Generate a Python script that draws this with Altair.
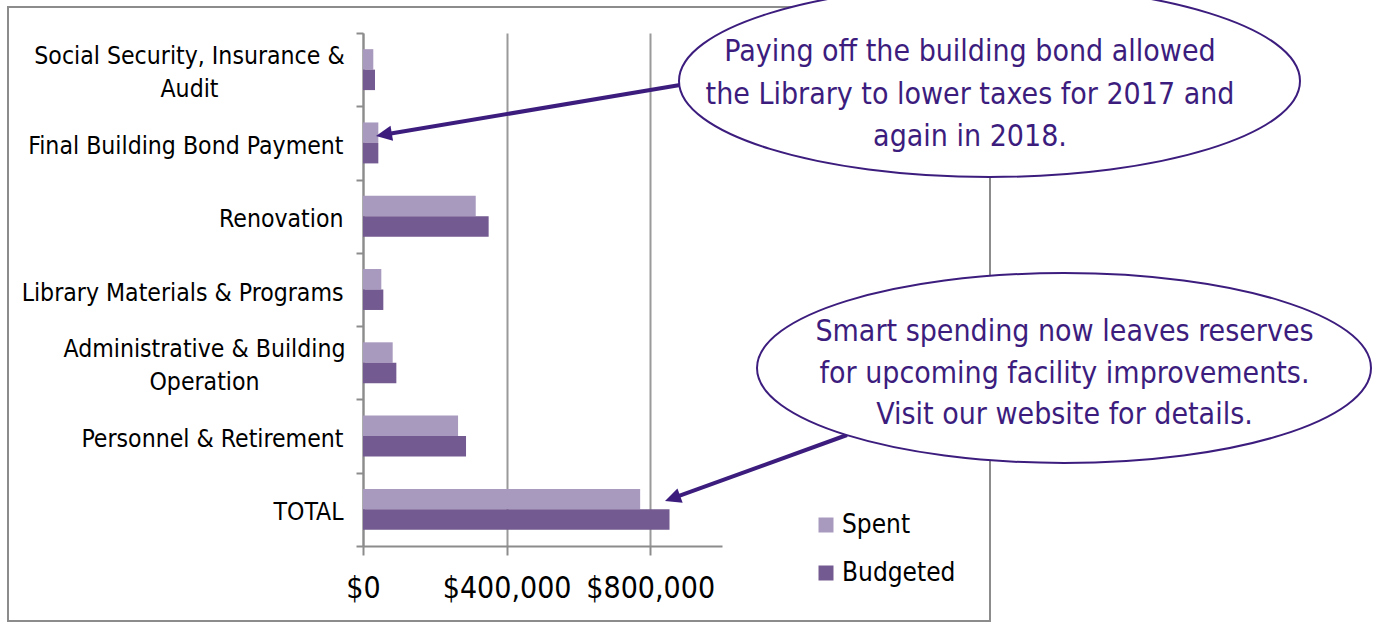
import altair as alt
import pandas as pd
import math

# ---------------- data ----------------
categories = [
    "Social Security, Insurance & Audit",
    "Final Building Bond Payment",
    "Renovation",
    "Library Materials & Programs",
    "Administrative & Building Operation",
    "Personnel & Retirement",
    "TOTAL",
]
spent = [28700, 42700, 314000, 51000, 82700, 264800, 772000]
budgeted = [33400, 42700, 350000, 56600, 92900, 287000, 853800]
series_names = ["Spent", "Budgeted"]
series_colors = ["#a899be", "#735a91"]
x_ticks = [0, 400000, 800000]

note1_lines = ["Paying off the building bond allowed",
               "the Library to lower taxes for 2017 and",
               "again in 2018."]
note2_lines = ["Smart spending now leaves reserves",
               "for upcoming facility improvements.",
               "Visit our website for details."]

FONT = "Liberation Sans Narrow, DejaVu Sans Condensed, Arial Narrow, sans-serif"
PURPLE = "#3c1d7e"
GRAY = "#8c8c8c"

rows = []
for c, s, b in zip(categories, spent, budgeted):
    rows.append({"category": c, "series": "Spent", "amount": s})
    rows.append({"category": c, "series": "Budgeted", "amount": b})
df = pd.DataFrame(rows)

# plot origin in page pixels
OX, OY = 363, 33

MULTI1 = "Social Security, Insurance & Audit"
MULTI2 = "Administrative & Building Operation"
label_expr = (
    f"datum.label == '{MULTI1}' ? ['Social Security, Insurance &', 'Audit'] : "
    f"datum.label == '{MULTI2}' ? ['Administrative & Building', 'Operation'] : datum.label"
)
is_multi = f"datum.value == '{MULTI1}' || datum.value == '{MULTI2}'"

bars = alt.Chart(df).mark_bar().encode(
    x=alt.X("amount:Q",
            scale=alt.Scale(domain=[0, 1000000], nice=False),
            axis=alt.Axis(values=x_ticks, format="$,.0f", title=None, grid=True,
                          gridColor="#9a9a9a", gridWidth=2,
                          domainColor=GRAY, domainWidth=2,
                          tickColor=GRAY, tickWidth=2, tickSize=9,
                          labelFont=FONT, labelFontSize=30, labelColor="black",
                          labelPadding=18, labelFlush=False, labelOverlap=False)),
    y=alt.Y("category:N", sort=categories,
            scale=alt.Scale(domain=categories, paddingInner=0, paddingOuter=0),
            axis=alt.Axis(title=None, grid=False, tickBand="extent",
                          domainColor=GRAY, domainWidth=2,
                          tickColor=GRAY, tickWidth=2, tickSize=7,
                          labelFont=FONT, labelFontSize=24.6, labelColor="black",
                          labelLimit=1000, labelLineHeight=33, labelExpr=label_expr,
                          labelAlign={"condition": {"test": is_multi, "value": "center"},
                                      "value": "right"},
                          labelOffset={"condition": {"test": is_multi, "value": -13.5},
                                       "value": 3.5},
                          labelPadding={"condition": [
                              {"test": f"datum.value == '{MULTI1}'", "value": 167},
                              {"test": f"datum.value == '{MULTI2}'", "value": 152}],
                              "value": 13})),
    yOffset=alt.YOffset("series:N", sort=series_names,
                        scale=alt.Scale(domain=series_names, paddingInner=0, paddingOuter=0.79)),
    color=alt.Color("series:N",
                    scale=alt.Scale(domain=series_names, range=series_colors),
                    legend=alt.Legend(title=None, orient="none", legendX=450, legendY=479,
                                      symbolType="square", symbolSize=225, symbolStrokeWidth=0,
                                      labelFont=FONT, labelFontSize=26, labelColor="black",
                                      labelOffset=3, rowPadding=22, padding=0)),
)

one = alt.Data(values=[{"k": 1}])

border = alt.Chart(one).mark_rect(fill="transparent", stroke=GRAY, strokeWidth=2).encode(
    x=alt.value(8 - OX), x2=alt.value(990 - OX),
    y=alt.value(7 - OY), y2=alt.value(621 - OY),
)

def bezier_ellipse(ratio):
    k = 0.5523
    r = ratio
    return (f"M -1 0 C -1 {-k*r:.4f} {-k:.4f} {-r:.4f} 0 {-r:.4f} "
            f"C {k:.4f} {-r:.4f} 1 {-k*r:.4f} 1 0 "
            f"C 1 {k*r:.4f} {k:.4f} {r:.4f} 0 {r:.4f} "
            f"C {-k:.4f} {r:.4f} -1 {k*r:.4f} -1 0 Z")

ARROW_HEAD = "M 0 0 L 0.95 2 L -0.95 2 Z"

def arrow(x0, y0, x1, y1):
    dx, dy = x1 - x0, y1 - y0
    L = math.hypot(dx, dy)
    ux, uy = dx / L, dy / L
    ex, ey = x1 - ux * 12, y1 - uy * 12
    ang = (math.degrees(math.atan2(ux, -uy))) % 360
    line = alt.Chart(one).mark_rule(stroke=PURPLE, strokeWidth=4).encode(
        x=alt.value(x0 - OX), y=alt.value(y0 - OY),
        x2=alt.value(ex - OX), y2=alt.value(ey - OY))
    head = alt.Chart(one).mark_point(filled=True, fill=PURPLE, strokeWidth=0, opacity=1,
                                     shape=ARROW_HEAD, size=64 * 4, angle=ang).encode(
        x=alt.value(x1 - OX), y=alt.value(y1 - OY))
    return [line, head]

def ellipse(cx, cy, a, b):
    return alt.Chart(one).mark_point(filled=False, fill="white", fillOpacity=1,
                                     stroke=PURPLE, strokeWidth=2, opacity=1,
                                     shape=bezier_ellipse(b / a), size=(2 * a) ** 2).encode(
        x=alt.value(cx - OX), y=alt.value(cy - OY))

def note(lines, cx, y_first, lh):
    return alt.Chart(one).mark_text(font=FONT, fontSize=30, color=PURPLE, align="center",
                                    baseline="middle", lineHeight=lh).encode(
        x=alt.value(cx - OX), y=alt.value(y_first - OY), text=alt.value(lines))

chart = alt.layer(
    border,
    bars,
    *arrow(680, 85, 376, 136),
    *arrow(847, 435, 665, 501),
    ellipse(989.5, 81, 310.5, 96),
    ellipse(1064, 368, 307, 95),
    note(note1_lines, 970, 52, 42.5),
    note(note2_lines, 1064.5, 332, 41.5),
).properties(
    width=359, height=513,
    autosize="none",
    padding={"left": OX, "top": OY, "right": 1373 - OX - 359, "bottom": 622 - OY - 513},
    background="white",
).configure_view(stroke=None)

chart.save("out.html", embed_options={"renderer": "svg", "actions": False})
